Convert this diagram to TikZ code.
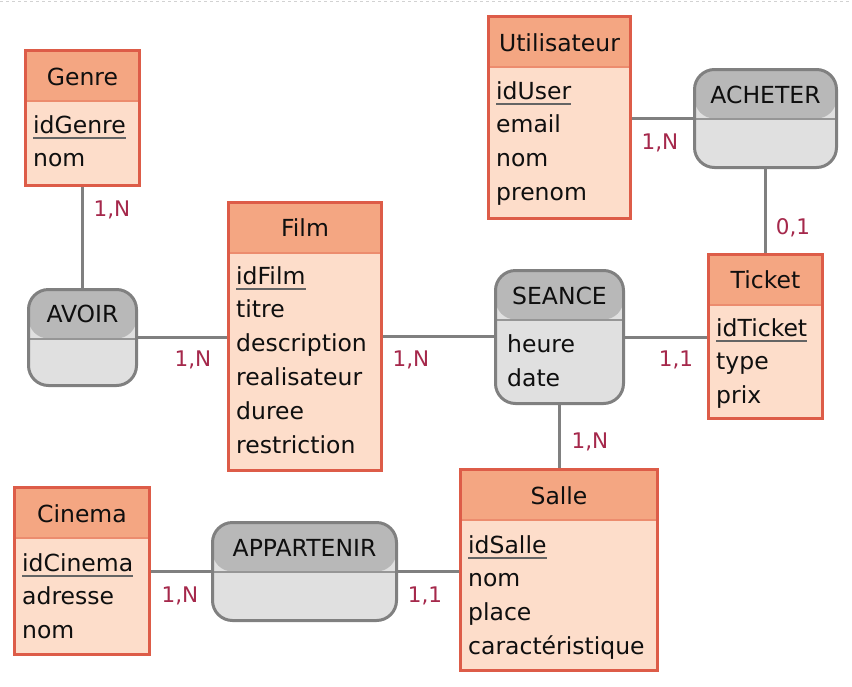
\documentclass[tikz,border=0pt]{standalone}
\usepackage{fontspec}
\setmainfont{DejaVu Sans}
\usetikzlibrary{backgrounds}
\definecolor{entborder}{RGB}{221,92,72}
\definecolor{enthead}{RGB}{244,166,130}
\definecolor{entsep}{RGB}{236,140,110}
\definecolor{entbody}{RGB}{253,221,202}
\definecolor{assborder}{RGB}{128,128,128}
\definecolor{asshead}{RGB}{184,184,184}
\definecolor{asssep}{RGB}{150,150,150}
\definecolor{assbody}{RGB}{224,224,224}
\definecolor{linkcol}{RGB}{128,128,128}
\definecolor{cardcol}{RGB}{165,40,75}
\definecolor{textcol}{RGB}{15,15,15}
\definecolor{keycol}{RGB}{100,100,100}
\tikzset{
  x=1pt, y=-1pt,
  entbox/.style={draw=entborder, line width=3pt, fill=entbody, anchor=north west, inner sep=0pt,
    path picture={
      \fill[enthead] (path picture bounding box.north west) rectangle ([yshift=-50pt]path picture bounding box.north east);
      \draw[entsep, line width=2pt] ([yshift=-50pt]path picture bounding box.north west) -- ([yshift=-50pt]path picture bounding box.north east);}},
  assbox/.style={draw=assborder, line width=3pt, fill=assbody, anchor=north west, inner sep=0pt, rounded corners=20pt,
    path picture={
      \fill[asshead] (path picture bounding box.north west) rectangle ([yshift=-49pt]path picture bounding box.north east);
      \draw[asssep, line width=2pt] ([yshift=-49pt]path picture bounding box.north west) -- ([yshift=-49pt]path picture bounding box.north east);}},
  hd/.style={anchor=base, inner sep=0pt, font=\fontsize{23.5}{28}\selectfont, text=textcol},
  attr/.style={anchor=base west, inner sep=0pt, font=\fontsize{23.5}{28}\selectfont, text=textcol},
  keyline/.style={draw=keycol, line width=2.5pt},
  link/.style={draw=linkcol, line width=3pt},
  card/.style={inner sep=0pt, font=\fontsize{21.5}{26}\selectfont, text=cardcol},
}
\begin{document}
\begin{tikzpicture}
\useasboundingbox (0,0) rectangle (852,686);
% entities
\node[entbox, minimum width=114pt, minimum height=135pt] (genre) at (24,49) {};
\node[entbox, minimum width=153pt, minimum height=268pt] (film) at (227,201) {};
\node[entbox, minimum width=142pt, minimum height=202pt] (util) at (487,15) {};
\node[entbox, minimum width=114pt, minimum height=164pt] (ticket) at (707,253) {};
\node[entbox, minimum width=197pt, minimum height=201pt] (salle) at (459,468) {};
\node[entbox, minimum width=135pt, minimum height=167pt] (cinema) at (13,486) {};
% associations
\node[assbox, minimum width=108pt, minimum height=96pt] (avoir) at (27,288) {};
\node[assbox, minimum width=142pt, minimum height=98pt] (acheter) at (693,68) {};
\node[assbox, minimum width=128pt, minimum height=133pt] (seance) at (494,269) {};
\node[assbox, minimum width=184pt, minimum height=98pt] (appart) at (211,521) {};
% links
\begin{scope}[on background layer]
\fill[white] (0,0) rectangle (852,686);
\draw[dashed, gray!35, line width=1pt] (0,1) -- (852,1);
\draw[link] (genre.south) -- (avoir.north);
\draw[link] (avoir.east) -- (avoir.east -| film.west);
\draw[link] (film.east) -- (film.east -| seance.west);
\draw[link] (seance.east) -- (seance.east -| ticket.west);
\draw[link] (seance.south) -- (seance.south |- salle.north);
\draw[link] (acheter.west) -- (acheter.west -| util.east);
\draw[link] (acheter.south) -- (acheter.south |- ticket.north);
\draw[link] (appart.west) -- (appart.west -| cinema.east);
\draw[link] (appart.east) -- (appart.east -| salle.west);
\end{scope}
% Genre
\node[hd] (genreH) at ([yshift=-36pt]genre.north) {Genre};
\node[attr] (genreK) at ([xshift=9pt,yshift=-84pt]genre.north west) {idGenre};
\node[attr] (genreA1) at ([xshift=9pt,yshift=-117.8pt]genre.north west) {nom};
\draw[keyline] ([yshift=-5pt]genreK.base west) -- ([yshift=-5pt]genreK.base east);
% Film
\node[hd] (filmH) at ([yshift=-35pt]film.north) {Film};
\node[attr] (filmK) at ([xshift=9pt,yshift=-83pt]film.north west) {idFilm};
\node[attr] (filmA1) at ([xshift=9pt,yshift=-116.8pt]film.north west) {titre};
\node[attr] (filmA2) at ([xshift=9pt,yshift=-150.6pt]film.north west) {description};
\node[attr] (filmA3) at ([xshift=9pt,yshift=-184.4pt]film.north west) {realisateur};
\node[attr] (filmA4) at ([xshift=9pt,yshift=-218.2pt]film.north west) {duree};
\node[attr] (filmA5) at ([xshift=9pt,yshift=-252pt]film.north west) {restriction};
\draw[keyline] ([yshift=-5pt]filmK.base west) -- ([yshift=-5pt]filmK.base east);
% Utilisateur
\node[hd] (utilH) at ([yshift=-36pt]util.north) {Utilisateur};
\node[attr] (utilK) at ([xshift=9pt,yshift=-84pt]util.north west) {idUser};
\node[attr] (utilA1) at ([xshift=9pt,yshift=-117.8pt]util.north west) {email};
\node[attr] (utilA2) at ([xshift=9pt,yshift=-151.6pt]util.north west) {nom};
\node[attr] (utilA3) at ([xshift=9pt,yshift=-185.4pt]util.north west) {prenom};
\draw[keyline] ([yshift=-5pt]utilK.base west) -- ([yshift=-5pt]utilK.base east);
% Ticket
\node[hd] (ticketH) at ([yshift=-35pt]ticket.north) {Ticket};
\node[attr] (ticketK) at ([xshift=9pt,yshift=-83pt]ticket.north west) {idTicket};
\node[attr] (ticketA1) at ([xshift=9pt,yshift=-116.8pt]ticket.north west) {type};
\node[attr] (ticketA2) at ([xshift=9pt,yshift=-150.6pt]ticket.north west) {prix};
\draw[keyline] ([yshift=-5pt]ticketK.base west) -- ([yshift=-5pt]ticketK.base east);
% Salle
\node[hd] (salleH) at ([yshift=-36pt]salle.north) {Salle};
\node[attr] (salleK) at ([xshift=9pt,yshift=-85pt]salle.north west) {idSalle};
\node[attr] (salleA1) at ([xshift=9pt,yshift=-118.8pt]salle.north west) {nom};
\node[attr] (salleA2) at ([xshift=9pt,yshift=-152.6pt]salle.north west) {place};
\node[attr] (salleA3) at ([xshift=9pt,yshift=-186.4pt]salle.north west) {caractéristique};
\draw[keyline] ([yshift=-5pt]salleK.base west) -- ([yshift=-5pt]salleK.base east);
% Cinema
\node[hd] (cinemaH) at ([yshift=-36pt]cinema.north) {Cinema};
\node[attr] (cinemaK) at ([xshift=9pt,yshift=-85pt]cinema.north west) {idCinema};
\node[attr] (cinemaA1) at ([xshift=9pt,yshift=-118.8pt]cinema.north west) {adresse};
\node[attr] (cinemaA2) at ([xshift=9pt,yshift=-152.6pt]cinema.north west) {nom};
\draw[keyline] ([yshift=-5pt]cinemaK.base west) -- ([yshift=-5pt]cinemaK.base east);
% association texts
\node[hd] (avoirH) at ([yshift=-34pt]avoir.north) {AVOIR};
\node[hd] (acheterH) at ([yshift=-35pt]acheter.north) {ACHETER};
\node[hd] (seanceH) at ([yshift=-35pt]seance.north) {SEANCE};
\node[attr] (seanceA1) at ([xshift=13pt,yshift=-83pt]seance.north west) {heure};
\node[attr] (seanceA2) at ([xshift=13pt,yshift=-117pt]seance.north west) {date};
\node[hd] (appartH) at ([yshift=-35pt]appart.north) {APPARTENIR};
% cardinalities
\node[card] (c1) at (112,210) {1,N};
\node[card] (c2) at (193,360) {1,N};
\node[card] (c3) at (411,360) {1,N};
\node[card] (c4) at (676,360) {1,1};
\node[card] (c5) at (590,442) {1,N};
\node[card] (c6) at (660,143) {1,N};
\node[card] (c7) at (793,228) {0,1};
\node[card] (c8) at (180,596) {1,N};
\node[card] (c9) at (425,596) {1,1};
\end{tikzpicture}
\end{document}
